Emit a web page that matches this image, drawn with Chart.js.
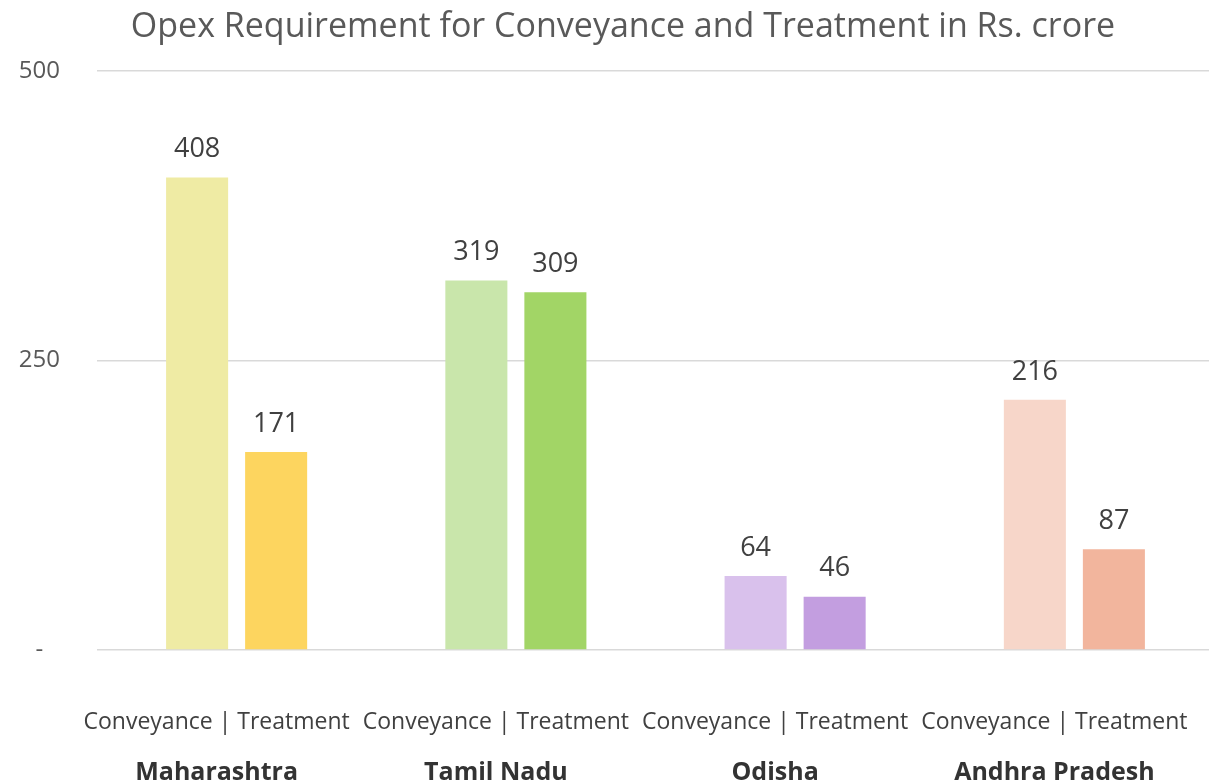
<!DOCTYPE html>
<html><head><meta charset="utf-8">
<script src="https://cdn.jsdelivr.net/npm/chart.js@4.4.1/dist/chart.umd.min.js"></script>
<style>html,body{margin:0;padding:0;background:#fff;overflow:hidden;}#wrap{width:1209px;height:784px;overflow:hidden;}</style>
</head><body><div id="wrap"><canvas id="c" width="1214" height="784"></canvas></div>
<script>
const chartTitle = 'Opex Requirement for Conveyance and Treatment in Rs. crore';
const states = ['Maharashtra', 'Tamil Nadu', 'Odisha', 'Andhra Pradesh'];
const subLabels = ['Conveyance | Treatment', 'Conveyance | Treatment', 'Conveyance | Treatment', 'Conveyance | Treatment'];
const conveyance = [408, 319, 64, 216];
const treatment = [171, 309, 46, 87];
const yTicks = [0, 250, 500];
const conveyanceColors = ['#EFEBA4', '#C9E6AB', '#D9C1EC', '#F7D6C9'];
const treatmentColors = ['#FDD55F', '#A2D566', '#C39EE0', '#F2B59D'];

const FONT = 'Open Sans';

const valueLabels = {
  id: 'valueLabels',
  afterDatasetsDraw(chart) {
    const ctx = chart.ctx;
    ctx.save();
    ctx.font = '27px "' + FONT + '"';
    ctx.fillStyle = '#404040';
    ctx.textAlign = 'center';
    ctx.textBaseline = 'middle';
    chart.data.datasets.forEach((ds, i) => {
      chart.getDatasetMeta(i).data.forEach((el, j) => {
        ctx.fillText(String(ds.data[j]), el.x, el.y - 28);
      });
    });
    ctx.restore();
  }
};

const titlePlugin = {
  id: 'titleText',
  afterDraw(chart) {
    const ctx = chart.ctx;
    ctx.save();
    ctx.font = '34px "' + FONT + '"';
    ctx.fillStyle = '#595959';
    ctx.textAlign = 'center';
    ctx.textBaseline = 'middle';
    ctx.fillText(chartTitle, 623, 27);
    ctx.restore();
  }
};

function noSidePadding(s) { s.paddingLeft = 0; s.paddingRight = 0; }

new Chart(document.getElementById('c'), {
  type: 'bar',
  data: {
    labels: subLabels,
    datasets: [
      { label: 'Conveyance', data: conveyance, backgroundColor: conveyanceColors, categoryPercentage: 0.566, barPercentage: 0.785 },
      { label: 'Treatment', data: treatment, backgroundColor: treatmentColors, categoryPercentage: 0.566, barPercentage: 0.785 }
    ]
  },
  options: {
    responsive: false,
    animation: false,
    devicePixelRatio: 1,
    layout: { padding: { top: 71, right: 0, left: 0, bottom: 0 } },
    plugins: { legend: { display: false }, tooltip: { enabled: false }, title: { display: false } },
    scales: {
      x: {
        type: 'category',
        position: 'bottom',
        weight: 0,
        offset: true,
        grid: { display: false, drawTicks: false },
        border: { display: false },
        ticks: { font: { family: FONT, size: 23, lineHeight: 1 }, color: '#404040', padding: 61, labelOffset: -20, maxRotation: 0, autoSkip: false },
        afterFit(s) { s.height = 86; noSidePadding(s); }
      },
      x2: {
        type: 'category',
        labels: states,
        position: 'bottom',
        weight: 1,
        offset: true,
        grid: { display: false, drawTicks: false },
        border: { display: false },
        ticks: { font: { family: FONT, size: 25, weight: 'bold', lineHeight: 1 }, color: '#333333', padding: 24, labelOffset: -20, maxRotation: 0, autoSkip: false },
        afterFit(s) { s.height = 48; noSidePadding(s); }
      },
      y: {
        min: 0,
        max: 500,
        afterBuildTicks(s) { s.ticks = yTicks.map(v => ({ value: v })); },
        ticks: {
          callback: v => (v === 0 ? '-' : String(v)),
          font: { family: FONT, size: 24 },
          color: '#595959',
          crossAlign: 'center',
          padding: 37
        },
        grid: { color: '#d9d9d9', lineWidth: 1.5, drawTicks: false },
        border: { display: false },
        afterFit(s) { s.width = 97; }
      }
    }
  },
  plugins: [valueLabels, titlePlugin]
});
</script>
</body></html>
